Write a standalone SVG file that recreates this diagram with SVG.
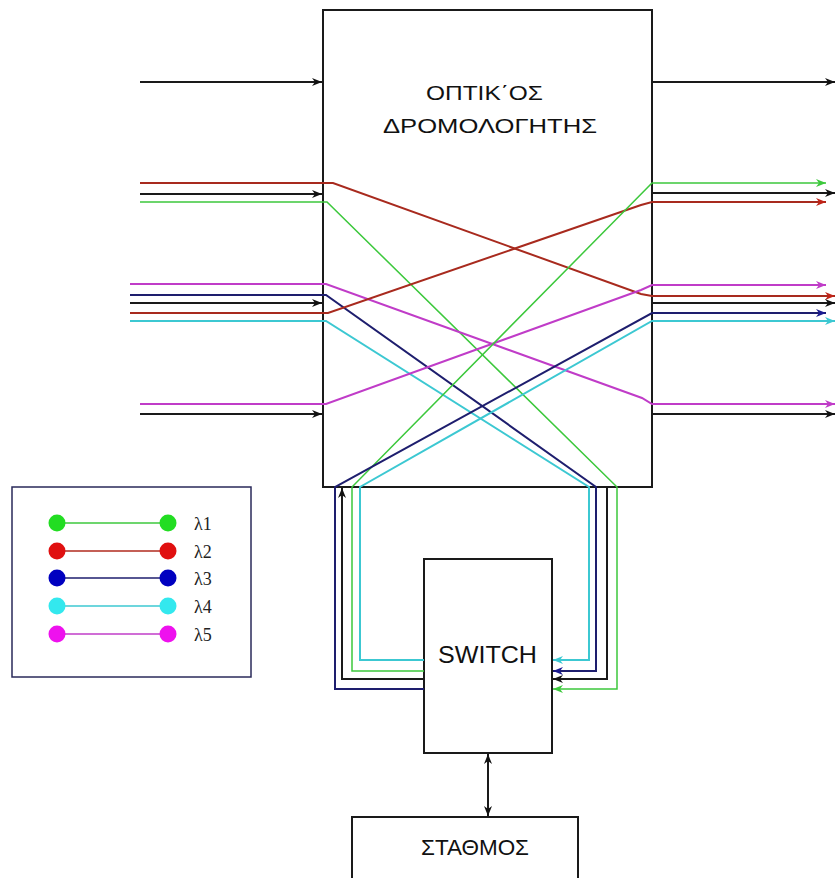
<svg xmlns="http://www.w3.org/2000/svg" width="837" height="878" viewBox="0 0 837 878">
<style>
.box{fill:#fff;stroke:#1a1a1a;stroke-width:2}
.c{fill:none;stroke-width:2;stroke-linejoin:miter}
.k{stroke:#1a1a1a}
.g{stroke:#3cc83c;stroke-width:1.5}
.r{stroke:#a82a1e}
.n{stroke:#1e1e6e}
.cy{stroke:#3cc8d2}
.m{stroke:#c03cc8}
.t{font-family:"Liberation Sans",Arial,sans-serif;fill:#111}
.lt{font-family:"Liberation Serif","DejaVu Serif","Times New Roman",serif;font-size:18px;fill:#222}
</style>
<defs>
<marker id="ak" viewBox="0 0 10 8" refX="10" refY="4" markerWidth="10" markerHeight="8" markerUnits="userSpaceOnUse" orient="auto-start-reverse"><path d="M0,0 L10,4 L0,8 L3,4 z" fill="#111"/></marker>
<marker id="ag" viewBox="0 0 10 8" refX="10" refY="4" markerWidth="10" markerHeight="8" markerUnits="userSpaceOnUse" orient="auto"><path d="M0,0 L10,4 L0,8 L3,4 z" fill="#3cc83c"/></marker>
<marker id="ar" viewBox="0 0 10 8" refX="10" refY="4" markerWidth="10" markerHeight="8" markerUnits="userSpaceOnUse" orient="auto"><path d="M0,0 L10,4 L0,8 L3,4 z" fill="#c02418"/></marker>
<marker id="an" viewBox="0 0 10 8" refX="10" refY="4" markerWidth="10" markerHeight="8" markerUnits="userSpaceOnUse" orient="auto"><path d="M0,0 L10,4 L0,8 L3,4 z" fill="#1a1a90"/></marker>
<marker id="ac" viewBox="0 0 10 8" refX="10" refY="4" markerWidth="10" markerHeight="8" markerUnits="userSpaceOnUse" orient="auto"><path d="M0,0 L10,4 L0,8 L3,4 z" fill="#3cc8d2"/></marker>
<marker id="am" viewBox="0 0 10 8" refX="10" refY="4" markerWidth="10" markerHeight="8" markerUnits="userSpaceOnUse" orient="auto"><path d="M0,0 L10,4 L0,8 L3,4 z" fill="#c03cc8"/></marker>
</defs>
<rect width="837" height="878" fill="#fff"/>

<g id="router">
<rect class="box" x="323" y="10" width="329" height="477"/>
<text class="t" x="426" y="100" font-size="20" textLength="117" lengthAdjust="spacingAndGlyphs">ΟΠΤΙΚ΄ΟΣ</text>
<text class="t" x="383" y="133" font-size="20" textLength="214" lengthAdjust="spacingAndGlyphs">ΔΡΟΜΟΛΟΓΗΤΗΣ</text>
</g>

<g id="switch">
<rect class="box" x="424" y="559" width="128" height="194"/>
<text class="t" x="438" y="663" font-size="24" textLength="99" lengthAdjust="spacingAndGlyphs">SWITCH</text>
</g>

<g id="station">
<rect class="box" x="352" y="817" width="226" height="70"/>
<text class="t" x="421" y="855" font-size="22" textLength="108" lengthAdjust="spacingAndGlyphs">ΣΤΑΘΜΟΣ</text>
</g>

<g id="legend">
<rect x="12" y="487" width="239" height="190" fill="#fff" stroke="#2a2a5a" stroke-width="1.5"/>
<line x1="57" y1="523" x2="168" y2="523" stroke="#3cc83c" stroke-width="1.5"/>
<line x1="57" y1="551" x2="168" y2="551" stroke="#b02a1e" stroke-width="1.5"/>
<line x1="57" y1="578" x2="168" y2="578" stroke="#1e1e6e" stroke-width="1.5"/>
<line x1="57" y1="606" x2="168" y2="606" stroke="#3cc8d2" stroke-width="1.5"/>
<line x1="57" y1="634" x2="168" y2="634" stroke="#c03cc8" stroke-width="1.5"/>
<circle cx="57" cy="523" r="8.5" fill="#22dd22"/><circle cx="168" cy="523" r="8.5" fill="#22dd22"/>
<circle cx="57" cy="551" r="8.5" fill="#e01010"/><circle cx="168" cy="551" r="8.5" fill="#e01010"/>
<circle cx="57" cy="578" r="8.5" fill="#0000c0"/><circle cx="168" cy="578" r="8.5" fill="#0000c0"/>
<circle cx="57" cy="606" r="8.5" fill="#33e8ee"/><circle cx="168" cy="606" r="8.5" fill="#33e8ee"/>
<circle cx="57" cy="634" r="8.5" fill="#ee11ee"/><circle cx="168" cy="634" r="8.5" fill="#ee11ee"/>
<text class="lt" x="194" y="530">λ1</text>
<text class="lt" x="194" y="558">λ2</text>
<text class="lt" x="194" y="585">λ3</text>
<text class="lt" x="194" y="613">λ4</text>
<text class="lt" x="194" y="641">λ5</text>
</g>

<g id="connectors">
<path class="c k" d="M140,82 H322" marker-end="url(#ak)"/>
<path class="c k" d="M652,82 H835" marker-end="url(#ak)"/>
<path class="c r" d="M140,183 H333 L641,294 L652,296 H835" marker-end="url(#ar)"/>
<path class="c k" d="M140,194 H322" marker-end="url(#ak)"/>
<path class="c g" d="M140,202 H327 L617,487 V689 H553" marker-end="url(#ag)"/>
<path class="c m" d="M130,284 H326 L642,398 L652,404 H835" marker-end="url(#am)"/>
<path class="c n" d="M130,295 H326 L596,487 V671 H553" marker-end="url(#an)"/>
<path class="c k" d="M130,303 H322" marker-end="url(#ak)"/>
<path class="c r" d="M130,313 H328 L641,205 L652,202 H826" marker-end="url(#ar)"/>
<path class="c cy" d="M130,321 H326 L589,487 V660 H553" marker-end="url(#ac)"/>
<path class="c m" d="M140,404 H326 L641,290 L652,285 H826" marker-end="url(#am)"/>
<path class="c k" d="M140,414 H322" marker-end="url(#ak)"/>
<path class="c g" d="M424,671 H352 V487 L652,183 H826" marker-end="url(#ag)"/>
<path class="c n" d="M424,689 H335 V487 L652,313 H826" marker-end="url(#an)"/>
<path class="c cy" d="M424,660 H360 V487 L652,321 H835" marker-end="url(#ac)"/>
<path class="c k" d="M424,679 H342 V488" marker-end="url(#ak)"/>
<path class="c k" d="M607,487 V679 H553" marker-end="url(#ak)"/>
<path class="c k" d="M652,193 H835" marker-end="url(#ak)"/>
<path class="c k" d="M652,303 H835" marker-end="url(#ak)"/>
<path class="c k" d="M652,414 H835" marker-end="url(#ak)"/>
<path class="c k" d="M488,754 V816" marker-start="url(#ak)" marker-end="url(#ak)"/>
</g>
</svg>
